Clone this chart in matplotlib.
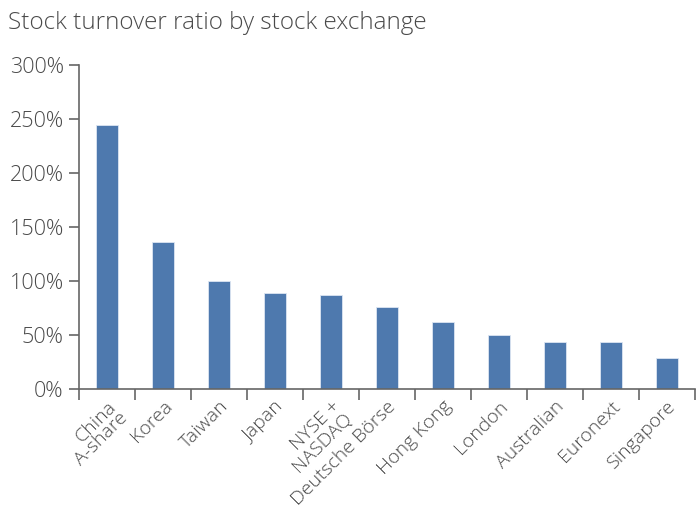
import matplotlib.pyplot as plt
import numpy as np
from matplotlib.ticker import FuncFormatter

exchanges = ['China\nA-share', 'Korea', 'Taiwan', 'Japan', 'NYSE +\nNASDAQ',
             'Deutsche Börse', 'Hong Kong', 'London', 'Australian',
             'Euronext', 'Singapore']
turnover = [244, 136, 100, 89, 87, 76, 62, 50, 44, 44, 29]

plt.rcParams['font.family'] = ['Open Sans', 'DejaVu Sans']
plt.rcParams['font.weight'] = 'light'
text_col = '#4a4a4a'
axis_col = '#666666'

fig = plt.figure(figsize=(6.99, 5.14), dpi=100)
ax = fig.add_axes([0.113, 0.243, 0.881, 0.631])

ind = np.arange(len(exchanges))
ax.bar(ind, turnover, 0.4, color='#4e79ae', edgecolor='#dce6f2', linewidth=0.6)

ax.set_xlim(-0.5, len(exchanges) - 0.5)
ax.set_ylim(0, 300)
ax.set_yticks(np.arange(0, 301, 50))
ax.yaxis.set_major_formatter(FuncFormatter(lambda v, p: '%d%%' % v))

ax.set_xticks(ind)
ax.set_xticklabels(exchanges, rotation=45, ha='right', rotation_mode='anchor',
                   linespacing=0.9)
ax.set_xticks(np.arange(-0.5, len(exchanges)), minor=True)
ax.tick_params(axis='x', which='major', length=0, pad=6, labelsize=14, labelcolor=text_col)
ax.tick_params(axis='x', which='minor', length=8, width=1.2, color=axis_col, direction='out')
ax.tick_params(axis='y', length=7, width=1.2, color=axis_col, labelsize=15.5,
               labelcolor=text_col, pad=4)

for s in ['top', 'right']:
    ax.spines[s].set_visible(False)
for s in ['left', 'bottom']:
    ax.spines[s].set_color(axis_col)
    ax.spines[s].set_linewidth(1.2)

fig.text(0.011, 0.955, 'Stock turnover ratio by stock exchange', fontsize=17.5,
         color=text_col, ha='left', va='center')

plt.savefig('out.png', dpi=100)
